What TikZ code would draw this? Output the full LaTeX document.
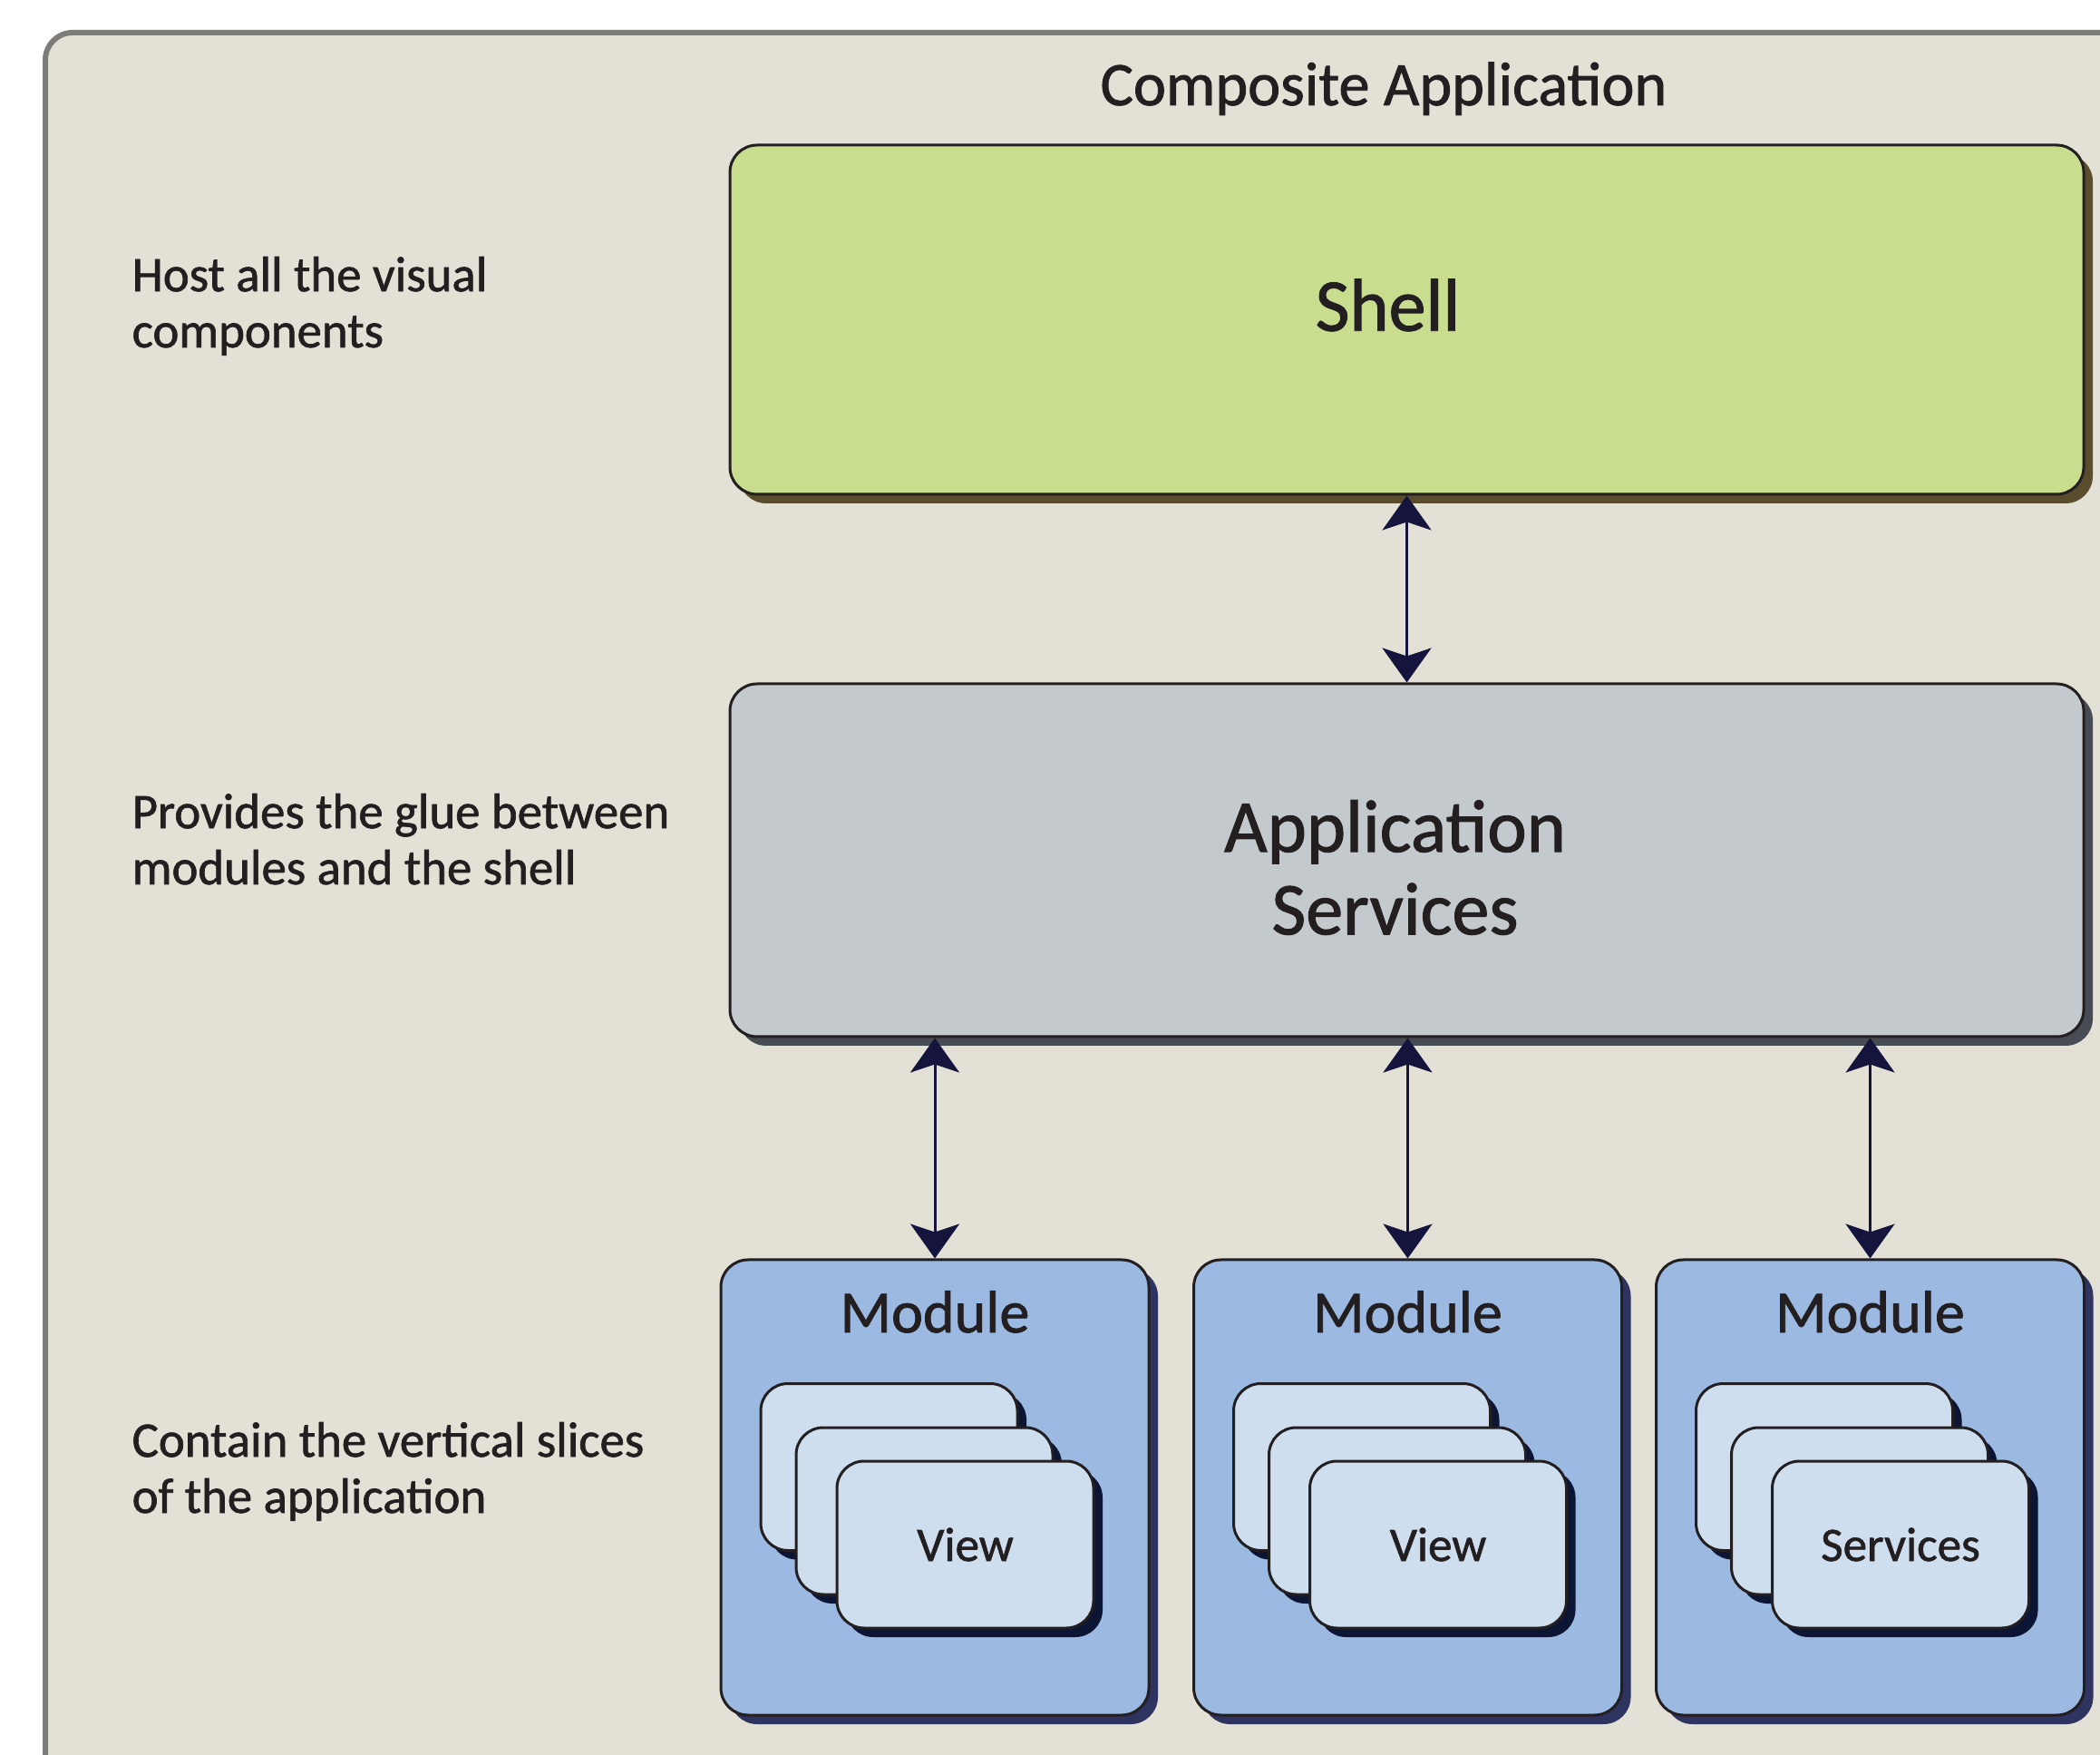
\documentclass[tikz,border=0pt]{standalone}
\usepackage{fontspec}
\setmainfont{Carlito}[FakeBold=1.2]
\usetikzlibrary{arrows.meta,shadows}

\definecolor{backc}{HTML}{E3E1D5}
\definecolor{framec}{HTML}{7D7C79}
\definecolor{inkc}{HTML}{231F20}
\definecolor{shellc}{HTML}{C9DD8F}
\definecolor{shellsh}{HTML}{5A4D2E}
\definecolor{appc}{HTML}{C4C9CD}
\definecolor{appsh}{HTML}{474B54}
\definecolor{modc}{HTML}{9BB9E1}
\definecolor{modsh}{HTML}{2F3360}
\definecolor{cardc}{HTML}{CEDEEE}
\definecolor{cardsh}{HTML}{0D1535}
\definecolor{arrowc}{HTML}{15143C}

\tikzset{
  box/.style={draw=inkc, line width=0.03cm, rounded corners=0.3cm, inner sep=0pt, text=inkc},
  castshadow/.style={drop shadow={shadow xshift=0.1cm, shadow yshift=-0.1cm, fill=#1, opacity=1}},
  bigtext/.style={inner sep=0pt, text=inkc, align=center,
    font=\fontsize{23.4pt}{25.9pt}\selectfont},
  note/.style={anchor=base west, align=left, inner sep=0pt, text=inkc,
    font=\fontsize{15.6pt}{17.6pt}\selectfont},
  modtitle/.style={anchor=north, yshift=-0.35cm, inner sep=0pt, text=inkc,
    font=\fontsize{18.8pt}{20pt}\selectfont},
  card/.style={box, castshadow=cardsh, fill=cardc, minimum width=2.83cm, minimum height=1.84cm,
    font=\fontsize{15.1pt}{17pt}\selectfont},
  biarrow/.style={draw=arrowc, line width=0.03cm,
    >={Stealth[length=0.38cm, width=0.54cm, inset=0.09cm]}, <->},
}

\begin{document}
\begin{tikzpicture}
\useasboundingbox (0,0) rectangle (23.16,19.34);
\clip (0,0) rectangle (23.16,19.34);

% frame, runs off the right and bottom edges
\draw[fill=backc, draw=framec, line width=0.06cm, rounded corners=0.3cm]
  (0.50,-0.30) rectangle (23.70,18.98);

\node[anchor=base, inner sep=0pt, text=inkc, font=\fontsize{19.4pt}{22pt}\selectfont]
  (title) at (15.26,18.18) {Composite Application};

\node[box, castshadow=shellsh, fill=shellc, minimum width=14.93cm, minimum height=3.85cm]
  (shell) at (15.515,15.815) {};
\node[bigtext] (shelltext) at ([shift={(-0.21,0.16)}]shell.center) {Shell};

\node[box, castshadow=appsh, fill=appc, minimum width=14.93cm, minimum height=3.89cm]
  (app) at (15.515,9.855) {};
\node[bigtext] (apptext) at ([shift={(-0.13,-0.08)}]app.center) {Application\\Services};

\draw[biarrow] (app.north) -- (shell.south);

% modules with their stacked parts
\foreach \x/\kind [count=\i] in {10.31/View, 15.525/View, 20.625/Services} {
  \node[box, castshadow=modsh, fill=modc, minimum width=4.72cm, minimum height=5.02cm,
    label={[modtitle]north:Module}] (mod\i) at (\x,2.94) {};
  \node[card] (mod\i a) at ([shift={(-0.505,0.225)}]mod\i.center) {};
  \node[card] (mod\i b) at ([shift={(-0.115,-0.26)}]mod\i.center) {};
  \node[card] (mod\i c) at ([shift={(0.335,-0.63)}]mod\i.center) {\kind};
  \draw[biarrow] (mod\i.north) -- (mod\i.north |- app.south);
}

\node[note] (hostnote) at (1.45,15.51) {Host all the visual\\components};
\node[note] (gluenote) at (1.45,9.59) {Provides the glue between\\modules and the shell};
\node[note] (slicenote) at (1.45,2.66) {Contain the vertical slices\\of the application};

\end{tikzpicture}
\end{document}
